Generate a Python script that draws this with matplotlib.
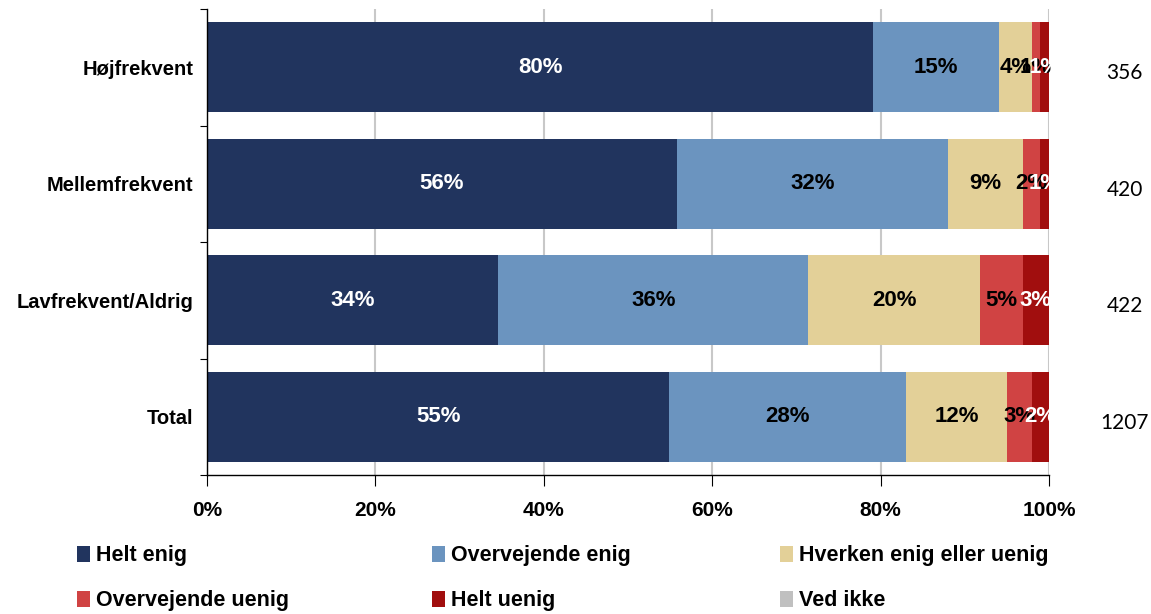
import numpy as np
import matplotlib.pyplot as plt
from matplotlib.patches import Patch

# data (shares in %)
categories = ["Højfrekvent", "Mellemfrekvent", "Lavfrekvent/Aldrig", "Total"]
counts = ["356", "420", "422", "1207"]
series = ["Helt enig", "Overvejende enig", "Hverken enig eller uenig",
          "Overvejende uenig", "Helt uenig", "Ved ikke"]

helt_enig = [79.1, 55.8, 34.6, 54.9]
overvejende_enig = [15.0, 32.2, 36.8, 28.1]
hverken = [3.9, 8.9, 20.4, 12.0]
overvejende_uenig = [0.9, 2.0, 5.1, 3.0]
helt_uenig = [1.1, 1.1, 3.1, 2.0]
ved_ikke = [0.0, 0.0, 0.0, 0.0]

labels_helt_enig = ["80%", "56%", "34%", "55%"]
labels_overvejende_enig = ["15%", "32%", "36%", "28%"]
labels_hverken = ["4%", "9%", "20%", "12%"]
labels_overvejende_uenig = ["1%", "2%", "5%", "3%"]
labels_helt_uenig = ["1%", "1%", "3%", "2%"]

values = [helt_enig, overvejende_enig, hverken, overvejende_uenig, helt_uenig, ved_ikke]
bar_labels = [labels_helt_enig, labels_overvejende_enig, labels_hverken,
              labels_overvejende_uenig, labels_helt_uenig, None]
colors = ["#21345e", "#6b94bf", "#e3d098", "#d04343", "#a10e0e", "#c0c0c0"]
text_colors = ["white", "black", "black", "black", "white", None]

plt.rcParams["font.family"] = ["Liberation Sans", "DejaVu Sans"]

fig = plt.figure(figsize=(11.51, 6.14), dpi=100)
ax = fig.add_axes([207 / 1151, 1 - 475 / 614, 842 / 1151, 466 / 614])

y = np.arange(len(categories))
left = np.zeros(len(categories))
for vals, labs, col, tcol in zip(values, bar_labels, colors, text_colors):
    vals = np.array(vals)
    ax.barh(y, vals, left=left, height=0.775, color=col, zorder=2)
    if labs is not None:
        for yi, (l, v, lab) in enumerate(zip(left, vals, labs)):
            ax.text(l + v / 2, yi, lab, ha="center", va="center", color=tcol,
                    fontsize=16, fontweight="bold", zorder=3)
    left = left + vals

ax.set_xlim(0, 100)
ax.set_ylim(3.5, -0.5)

ax.set_xticks(np.arange(0, 101, 20))
ax.set_xticklabels([f"{v}%" for v in range(0, 101, 20)], fontsize=15, fontweight="bold")
ax.tick_params(axis="x", direction="out", length=8, width=0.8, pad=11)

ax.set_yticks(np.arange(-0.5, 3.6, 1.0))
ax.set_yticklabels([])
ax.set_yticks(y, minor=True)
ax.set_yticklabels(categories, minor=True, fontsize=14.5, fontweight="bold")
ax.tick_params(axis="y", which="major", direction="out", length=5, width=0.8)
ax.tick_params(axis="y", which="minor", length=0, pad=10)

ax.grid(axis="x", color="#c8c8c8", linewidth=1.5, zorder=0)
for side in ["top", "right"]:
    ax.spines[side].set_visible(False)
ax.spines["left"].set_linewidth(1.0)
ax.spines["bottom"].set_linewidth(1.0)

# sample sizes on the right
for yi, n in enumerate(counts):
    ax.text(1.09, yi + 0.05, n, transform=ax.get_yaxis_transform(),
            ha="center", va="center", fontsize=15, family="Lato")

# legend: three columns of two entries
legend_x = [58 / 1151, 413 / 1151, 761 / 1151]
for col in range(3):
    idx = [col, col + 3]
    handles = [Patch(facecolor=colors[i], label=series[i]) for i in idx]
    fig.legend(handles=handles, loc="upper left",
               bbox_to_anchor=(legend_x[col], 1 - 526 / 614),
               frameon=False, handlelength=0.6, handleheight=0.8,
               handletextpad=0.25, labelspacing=1.12,
               prop={"weight": "bold", "size": 15.5})

fig.savefig("out.png", dpi=100)
